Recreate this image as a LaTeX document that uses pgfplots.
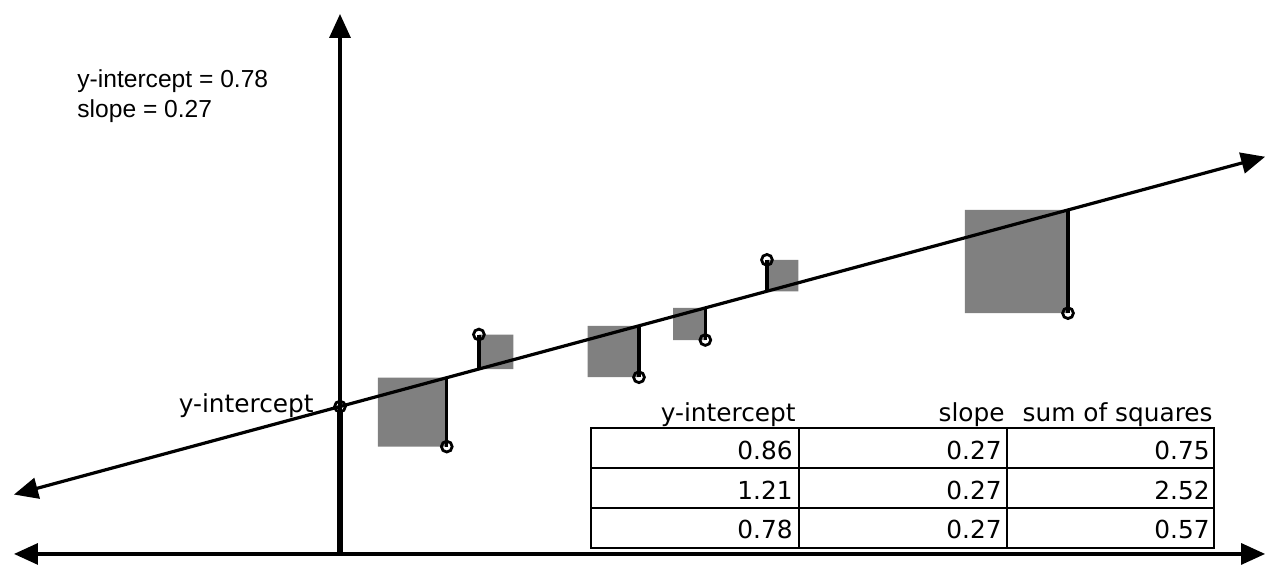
\documentclass[border=0pt]{standalone}
\usepackage{fontspec}
\setmainfont{Liberation Sans}
\newfontfamily\tablefont{DejaVu Sans}
\usepackage{pgfplots}
\pgfplotsset{compat=1.18}
\usetikzlibrary{arrows.meta}

\begin{document}
\begin{tikzpicture}[>={Triangle[length=12pt,width=10.5pt]}]
\begin{axis}[
    hide axis,
    scale only axis,
    width=633.5pt, height=280pt,
    xmin=-1.799, xmax=4.905,
    ymin=-0.032, ymax=2.931,
    clip=false,
]
% squares of the residuals (line: y = 0.78 + 0.27 x)
\addplot[fill=gray, draw=none] coordinates {(0.2004,0.568) (0.565,0.568) (0.565,0.9326) (0.2004,0.9326) (0.2004,0.568)};
\addplot[fill=gray, draw=none] coordinates {(0.735,0.9785) (0.9176,0.9785) (0.9176,1.161) (0.735,1.161) (0.735,0.9785)};
\addplot[fill=gray, draw=none] coordinates {(1.3099,0.935) (1.582,0.935) (1.582,1.2071) (1.3099,1.2071) (1.3099,0.935)};
\addplot[fill=gray, draw=none] coordinates {(1.7631,1.132) (1.933,1.132) (1.933,1.3019) (1.7631,1.3019) (1.7631,1.132)};
\addplot[fill=gray, draw=none] coordinates {(2.259,1.3899) (2.4251,1.3899) (2.4251,1.556) (2.259,1.556) (2.259,1.3899)};
\addplot[fill=gray, draw=none] coordinates {(3.306,1.274) (3.852,1.274) (3.852,1.8200) (3.306,1.8200) (3.306,1.274)};

% residual lines
\addplot[black, line width=1.6pt] coordinates {(0.565,0.568) (0.565,0.9326)};
\addplot[black, line width=1.6pt] coordinates {(0.735,1.161) (0.735,0.9785)};
\addplot[black, line width=1.6pt] coordinates {(1.582,0.935) (1.582,1.2071)};
\addplot[black, line width=1.6pt] coordinates {(1.933,1.132) (1.933,1.3019)};
\addplot[black, line width=1.6pt] coordinates {(2.259,1.556) (2.259,1.3899)};
\addplot[black, line width=1.6pt] coordinates {(3.852,1.274) (3.852,1.8200)};

% axes
\addplot[black, line width=1.6pt, <->] coordinates {(-1.725,0) (4.895,0)};
\addplot[black, line width=1.7pt, ->] coordinates {(0,0) (0,2.857)};
\addplot[black, line width=2.8pt] coordinates {(0,0) (0,0.76)};

% fitted line
\addplot[black, line width=1.6pt, <->] coordinates {(-1.725,0.3143) (4.895,2.1017)};

% data points
\addplot[black, only marks, mark=o, mark size=2.7pt, mark options={line width=1.4pt}]
    coordinates {(0,0.78) (0.565,0.568) (0.735,1.161) (1.582,0.935) (1.933,1.132) (2.259,1.556) (3.852,1.274)};
\end{axis}

% annotations in pixel units, origin top left
\begin{scope}[x=0.5pt, y=-0.5pt, shift={(0,280pt)}]
\path (0,0) rectangle (1267,560);
\node[anchor=base west, inner sep=0, font=\fontsize{12.3}{14}\selectfont] at (77,88) {y-intercept = 0.78};
\node[anchor=base west, inner sep=0, font=\fontsize{12.3}{14}\selectfont] at (77,118) {slope = 0.27};

\begin{scope}[every node/.style={anchor=base east, inner sep=0, font=\tablefont\fontsize{12.4}{14}\selectfont}]
\node at (314,413) {y-intercept};
\node at (796,422) {y-intercept};
\node at (1005,422) {slope};
\node at (1213,422) {sum of squares};
\node at (793,460) {0.86};  \node at (1002,460) {0.27};  \node at (1210,460) {0.75};
\node at (793,499.5) {1.21};\node at (1002,499.5) {0.27};\node at (1210,499.5) {2.52};
\node at (793,539) {0.78};  \node at (1002,539) {0.27};  \node at (1210,539) {0.57};
\end{scope}

\draw[line width=1.3pt] (591,428) rectangle (1214,548);
\draw[line width=1.3pt] (591,468) -- (1214,468) (591,508) -- (1214,508)
    (799,428) -- (799,548) (1007,428) -- (1007,548);
\end{scope}
\end{tikzpicture}
\end{document}
